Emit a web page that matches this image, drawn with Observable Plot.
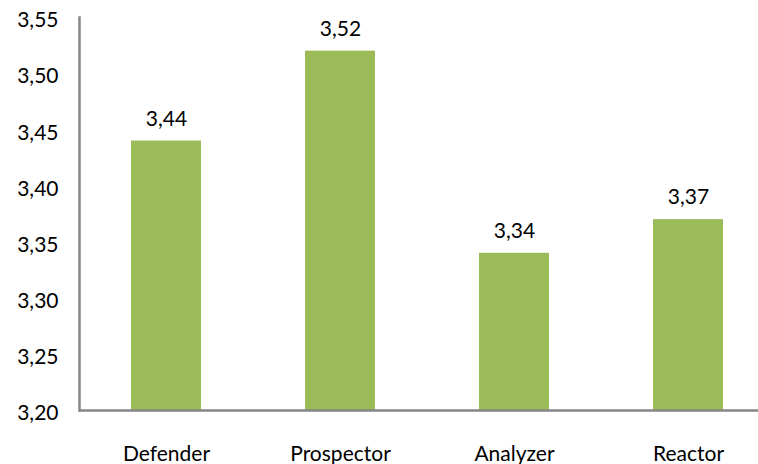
<!DOCTYPE html>
<html>
<head>
<meta charset="utf-8">
<script src="https://cdn.jsdelivr.net/npm/d3@7"></script>
<script src="https://cdn.jsdelivr.net/npm/@observablehq/plot@0.6"></script>
<style>
  html, body { margin: 0; padding: 0; background: #fff; }
  #chart svg { display: block; }
</style>
</head>
<body>
<div id="chart"></div>
<script>
// Strategy types and their mean scores
const categories = ["Defender", "Prospector", "Analyzer", "Reactor"];
const values = [3.44, 3.52, 3.34, 3.37];
const yTicks = [3.20, 3.25, 3.30, 3.35, 3.40, 3.45, 3.50, 3.55];

const data = categories.map((c, i) => ({ category: c, value: values[i] }));
const fmt = v => v.toFixed(2).replace(".", ",");
const base = 3.20;
const axisGrey = "#868686";

const chart = Plot.plot({
  width: 758,
  height: 464,
  marginLeft: 79,
  marginRight: 0,
  marginTop: 17,
  marginBottom: 54,
  style: { fontFamily: "Lato, 'Open Sans', sans-serif", fontSize: "21px", color: "#000", background: "#fff" },
  x: { domain: categories, range: [79, 775], paddingInner: 0.6, paddingOuter: 0.3 },
  y: { domain: [3.20, 3.55] },
  marks: [
    Plot.barY(data, { x: "category", y1: base, y2: "value", fill: "#9BBB59" }),
    Plot.text(data, { x: "category", y: "value", text: d => fmt(d.value), dy: -22, fill: "#000", fontSize: 21 }),
    Plot.axisY(yTicks, { tickSize: 0, tickPadding: 21, tickFormat: fmt, dy: 3, fontSize: 21, fill: "#000", label: null }),
    Plot.axisX({ tickSize: 0, tickPadding: 36, fontSize: 21, fill: "#000", label: null }),
    Plot.ruleY([base], { stroke: axisGrey, strokeWidth: 2.5 }),
    Plot.frame({ anchor: "left", stroke: axisGrey, strokeWidth: 2.5 })
  ]
});
document.getElementById("chart").appendChild(chart);
</script>
</body>
</html>
